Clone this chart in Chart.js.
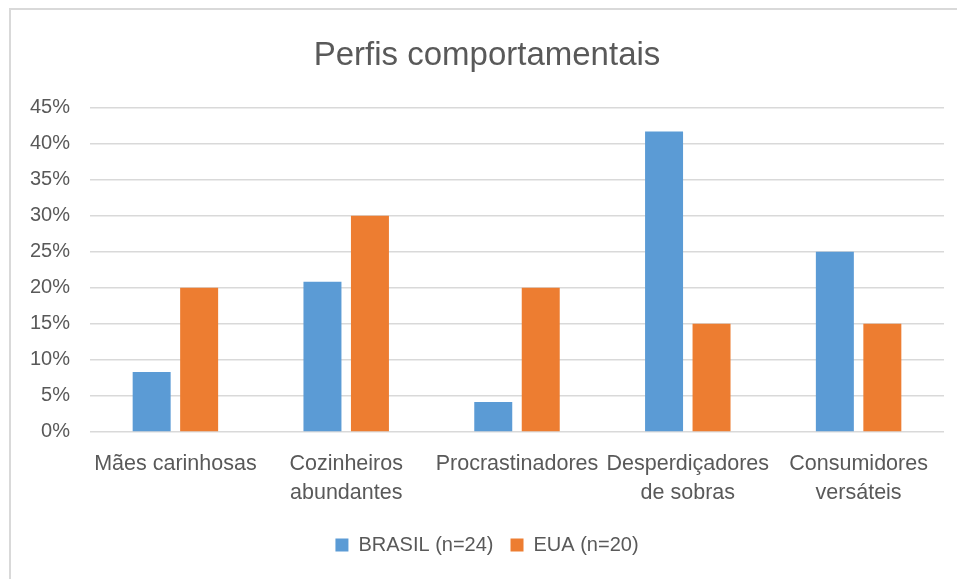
<!DOCTYPE html>
<html>
<head>
<meta charset="utf-8">
<script src="https://cdn.jsdelivr.net/npm/chart.js@4.4.1/dist/chart.umd.min.js"></script>
<style>
  html, body { margin: 0; padding: 0; background: #fff; overflow: hidden; }
  #wrap { position: relative; width: 957px; height: 579px; }
  #frame {
    position: absolute; left: 9px; top: 8px; width: 960px; height: 600px;
    border: 2px solid #d9d9d9; box-sizing: border-box; pointer-events: none;
  }
  canvas { position: absolute; left: 0; top: 0; }
</style>
</head>
<body>
<div id="wrap">
  <div id="frame"></div>
  <canvas id="chart" width="957" height="579"></canvas>
</div>
<script>
// Data
const categories = [
  "Mães carinhosas",
  ["Cozinheiros", "abundantes"],
  "Procrastinadores",
  ["Desperdiçadores", "de sobras"],
  ["Consumidores", "versáteis"]
];
const brasil = [0.0833, 0.2083, 0.0417, 0.4167, 0.25];   // n=24
const eua = [0.20, 0.30, 0.20, 0.15, 0.15];              // n=20
const yTicks = [0, 0.05, 0.10, 0.15, 0.20, 0.25, 0.30, 0.35, 0.40, 0.45];

const textColor = "#595959";
const gridColor = "#d9d9d9";
const fontFamily = "'Liberation Sans', Arial, sans-serif";

new Chart(document.getElementById("chart").getContext("2d"), {
  type: "bar",
  data: {
    labels: categories,
    datasets: [
      {
        label: "BRASIL (n=24)",
        data: brasil,
        backgroundColor: "#5B9BD5",
        categoryPercentage: 0.556,
        barPercentage: 0.8,
      },
      {
        label: "EUA (n=20)",
        data: eua,
        backgroundColor: "#ED7D31",
        categoryPercentage: 0.556,
        barPercentage: 0.8,
      },
    ],
  },
  options: {
    responsive: false,
    animation: false,
    layout: { padding: { left: 30, right: 13, bottom: 14 } },
    plugins: {
      title: {
        display: true,
        text: "Perfis comportamentais",
        color: textColor,
        font: { family: fontFamily, size: 33, weight: "normal" },
        padding: { top: 36, bottom: 32 },
      },
      legend: {
        position: "bottom",
        labels: {
          color: textColor,
          font: { family: fontFamily, size: 20 },
          boxWidth: 13,
          boxHeight: 13,
          padding: 17,
        },
      },
      tooltip: { enabled: false },
    },
    scales: {
      x: {
        grid: { display: false },
        border: { display: false },
        ticks: {
          color: textColor,
          font: { family: fontFamily, size: 21.5, lineHeight: 1.35 },
          maxRotation: 0,
          autoSkip: false,
          padding: 10,
        },
      },
      y: {
        min: 0,
        max: 0.45,
        afterBuildTicks: (axis) => {
          axis.ticks = yTicks.map((v) => ({ value: v }));
        },
        afterFit: (axis) => {
          axis.width = 60;
        },
        grid: { color: gridColor, lineWidth: 1.5, drawTicks: false },
        border: { display: false },
        ticks: {
          color: textColor,
          font: { family: fontFamily, size: 20 },
          padding: 20,
          callback: (v) => Math.round(v * 100) + "%",
        },
      },
    },
  },
});
</script>
</body>
</html>
